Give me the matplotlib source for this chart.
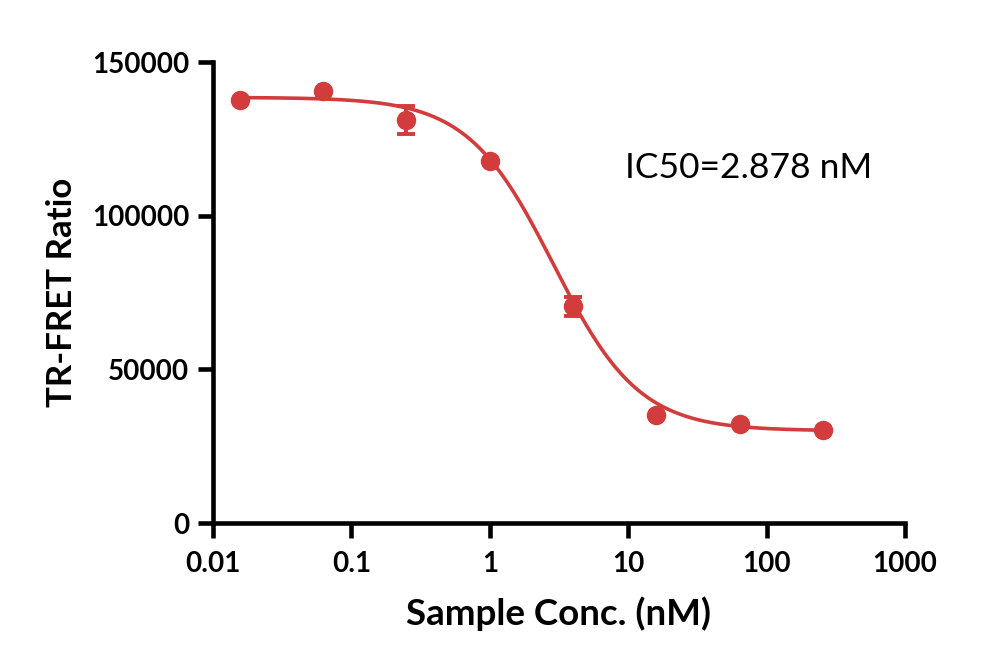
import numpy as np
import matplotlib
matplotlib.use("Agg")
import matplotlib.pyplot as plt
from matplotlib.ticker import FixedLocator, FixedFormatter

# Data
conc_nM = [0.015625, 0.0625, 0.25, 1.0, 4.0, 16.0, 64.0, 256.0]
ratio = [137600, 140700, 131100, 117800, 70600, 35100, 32200, 30300]
ratio_err = [0, 0, 4500, 0, 3100, 0, 0, 0]

# 4PL fit parameters (curve drawn from the fit)
fit_top = 138500
fit_bottom = 30000
fit_ic50 = 2.878
fit_hill = 1.4

x_ticks = [0.01, 0.1, 1, 10, 100, 1000]
x_ticklabels = ["0.01", "0.1", "1", "10", "100", "1000"]
y_ticks = [0, 50000, 100000, 150000]
y_ticklabels = ["0", "50000", "100000", "150000"]

color = "#D23C3C"
plt.rcParams['font.family'] = ['Lato', 'DejaVu Sans']

fig = plt.figure(figsize=(10, 6.7), dpi=100)
ax = fig.add_axes([0.213, 0.2194, 0.692, 0.688])

xs = np.logspace(np.log10(conc_nM[0]), np.log10(conc_nM[-1]), 400)
ys = fit_bottom + (fit_top - fit_bottom) / (1 + (xs / fit_ic50) ** fit_hill)
ax.plot(xs, ys, color=color, lw=2.6, zorder=2)

ax.errorbar(conc_nM, ratio, yerr=ratio_err, fmt='o', color=color, ms=13,
            capsize=6.5, capthick=2.8, elinewidth=2.8, zorder=3)

ax.set_xscale('log')
ax.set_xlim(0.01, 1000)
ax.set_ylim(0, 150000)
ax.xaxis.set_major_locator(FixedLocator(x_ticks))
ax.xaxis.set_major_formatter(FixedFormatter(x_ticklabels))
ax.xaxis.set_minor_locator(FixedLocator([]))
ax.yaxis.set_major_locator(FixedLocator(y_ticks))
ax.yaxis.set_major_formatter(FixedFormatter(y_ticklabels))

for s in ['top', 'right']:
    ax.spines[s].set_visible(False)
for s in ['left', 'bottom']:
    ax.spines[s].set_linewidth(3.3)
    ax.spines[s].set_capstyle('projecting')

ax.tick_params(axis='both', width=3.3, length=11, labelsize=20, pad=6)
ax.tick_params(axis='x', pad=9)
for lab in ax.get_xticklabels() + ax.get_yticklabels():
    lab.set_fontweight('bold')

ax.set_xlabel("Sample Conc. (nM)", fontsize=26.5, fontweight='bold', labelpad=14)
ax.set_ylabel("TR-FRET Ratio", fontsize=25, fontweight='bold', labelpad=10)

ax.text(0.596, 0.77, "IC50=2.878 nM", transform=ax.transAxes, fontsize=25.5,
        ha='left', va='center', color='black')

fig.savefig("out.png", dpi=100)
